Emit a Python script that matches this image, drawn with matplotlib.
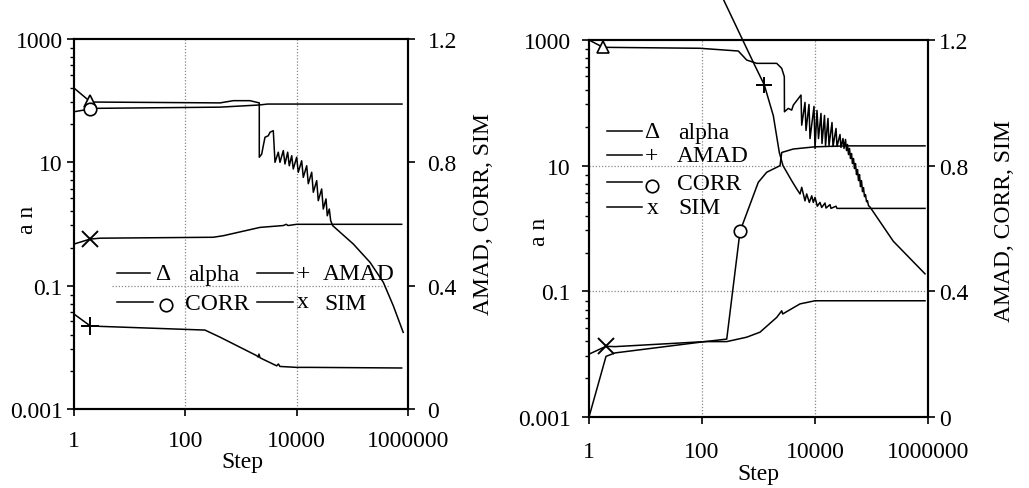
import matplotlib
matplotlib.use("Agg")
import matplotlib.pyplot as plt
from matplotlib.lines import Line2D
from matplotlib.ticker import FixedLocator, FixedFormatter, NullLocator

plt.rcParams['font.family'] = ['Liberation Serif', 'DejaVu Serif']
FS = 17

# ---------------- Left panel data ----------------
stepL_alpha = [1, 1.94, 2.2, 420, 727, 1450, 2130, 2131, 2354, 2515, 2697, 3093, 3319, 3803,
               4079, 4676, 5012, 5754, 6166, 6897, 7366, 8140, 8690, 10000, 10690, 12300,
               13150, 15140, 16180, 18620, 19900, 22900, 24440, 28120, 30060, 33650, 35480,
               38550, 40850, 44400, 104000, 208000, 360000, 544000, 820000]
alphaL = [160, 97, 95, 92, 100, 100, 92, 12.1, 13.6, 18.6, 25.5, 27.0, 30.7, 32.6,
          10.0, 14.6, 10.0, 15.5, 9.4, 14.6, 8.8, 12.8, 7.8, 12.1, 6.9, 10.6,
          5.7, 8.8, 4.5, 6.9, 3.27, 5.04, 2.39, 3.70, 1.75, 2.55, 1.36,
          1.75, 1.13, 0.94, 0.474, 0.239, 0.1135, 0.0473, 0.0175]

stepL_amad = [1, 1.94, 2.93, 225, 420, 1914, 2046, 2100, 2200, 4375, 4700, 5000, 10000, 17300, 770000]
amadL = [0.308, 0.270, 0.268, 0.256, 0.233, 0.173, 0.168, 0.178, 0.166, 0.140, 0.146, 0.138, 0.135, 0.135, 0.133]

stepL_corr = [1, 1.94, 2.2, 420, 2130, 3000, 780000]
corrL = [0.964, 0.973, 0.975, 0.979, 0.986, 0.989, 0.989]

stepL_sim = [1, 1.94, 2.93, 318, 481, 2193, 5750, 6500, 7000, 10000, 770000]
simL = [0.535, 0.551, 0.554, 0.557, 0.562, 0.589, 0.595, 0.599, 0.595, 0.599, 0.599]

# ---------------- Right panel data ----------------
stepR_alpha = [1, 1.77, 92, 439, 618, 929, 2100, 2575, 2864, 2880, 3367, 3870, 4130, 5650, 5820,
               6650, 6930, 7830, 8160, 9600, 10000, 10850, 11530, 12770, 13300, 14730, 15350,
               16980, 17700, 20000, 20840, 23550, 24500, 27700, 28840, 31300, 32600,
               34670, 36130, 37610, 39170, 40800, 42480, 44250, 46080, 47980, 50000, 52070,
               54300, 56500, 58880, 61350, 63830, 66530, 69340, 72110, 75160, 78340, 81650,
               84920, 88500, 94000, 243000, 885000]
alphaR = [1000, 765, 738, 668, 480, 425, 425, 354, 261, 72.1, 81.5, 76.6, 91.9, 133, 44.1,
          101.4, 36.3, 94.3, 27.0, 87.7, 18.8, 75.7, 27.0, 67.8, 22.5, 63.0, 20.9,
          56.4, 20.9, 48.6, 20.2, 39.1, 20.2, 31.3, 19.5, 27.0, 18.8,
          26.1, 17.4, 21.7, 15.0, 18.8, 13.0, 15.6, 10.8, 13.0, 9.0, 10.8,
          7.2, 8.67, 5.78, 7.2, 4.64, 5.78, 3.86, 4.48, 3.21, 3.46, 2.67,
          2.77, 2.31, 2.20, 0.627, 0.19]

stepR_amad = [162, 238, 809, 1267, 1829, 2335, 2715, 3870, 4745, 5430, 5820, 6650, 7130, 7930,
              8750, 9340, 10000, 10990, 12250, 13140, 15040, 15670, 18420, 19190, 23530,
              24500, 31700, 885000]
amadR = [1.394, 1.330, 1.129, 1.057, 0.959, 0.842, 0.800, 0.752, 0.726, 0.710, 0.731, 0.688,
         0.710, 0.683, 0.704, 0.683, 0.699, 0.671, 0.683, 0.667, 0.681, 0.665, 0.676, 0.664,
         0.671, 0.664, 0.664, 0.664]

stepR_corr = [1, 2.0, 2.9, 113, 274, 471, 991, 1396, 2404, 2575, 4130, 10000, 36400, 885000]
corrR = [0.0, 0.193, 0.204, 0.240, 0.248, 0.591, 0.747, 0.779, 0.800, 0.842, 0.853, 0.860, 0.863, 0.863]

stepR_sim = [1, 2.0, 2.9, 113, 274, 617, 1064, 2100, 2575, 2681, 5430, 10000, 885000]
simR = [0.200, 0.225, 0.224, 0.240, 0.240, 0.254, 0.270, 0.317, 0.338, 0.328, 0.360, 0.370, 0.370]

# marker positions (series value at a given step)
mkL = {'alpha': (1.94, 100), 'amad': (1.94, 0.270), 'corr': (1.94, 0.973), 'sim': (1.94, 0.551)}
mkR = {'alpha': (1.79, 780), 'amad': (1267, 1.057), 'corr': (471, 0.591), 'sim': (2.0, 0.225)}

x_ticks = [1, 100, 10000, 1000000]
x_labels = ['1', '100', '10000', '1000000']
yl_ticks = [0.001, 0.1, 10, 1000]
yl_labels = ['0.001', '0.1', '10', '1000']
yr_ticks = [0, 0.4, 0.8, 1.2]
yr_labels = ['0', '0.4', '0.8', '1.2']

W, H = 1029, 489
fig = plt.figure(figsize=(W / 100, H / 100), dpi=100)

LW = 1.1
GRID = dict(color='#888888', linestyle=(0, (1, 1.5)), linewidth=0.9)


def minor_positions():
    fr = [0.074, 0.145, 0.214, 0.288, 0.397, 0.512, 0.693]
    out = []
    for hi in (3, 1, -1):
        out += [10 ** (hi - 2 * f) for f in fr]
    return out


def setup(ax, ax2, lpad, rpad, xpad):
    ax.set_xscale('log')
    ax.set_yscale('log')
    ax.set_xlim(1, 1e6)
    ax.set_ylim(0.001, 1000)
    ax2.set_ylim(0, 1.2)
    ax.xaxis.set_major_locator(FixedLocator(x_ticks))
    ax.xaxis.set_major_formatter(FixedFormatter(x_labels))
    ax.xaxis.set_minor_locator(NullLocator())
    ax.yaxis.set_major_locator(FixedLocator(yl_ticks))
    ax.yaxis.set_major_formatter(FixedFormatter(yl_labels))
    ax.yaxis.set_minor_locator(FixedLocator(minor_positions()))
    ax2.yaxis.set_major_locator(FixedLocator(yr_ticks))
    ax2.yaxis.set_major_formatter(FixedFormatter(yr_labels))
    ax2.yaxis.set_minor_locator(NullLocator())
    ax.tick_params(axis='y', which='major', direction='out', length=5, width=1.2, labelsize=FS, pad=lpad)
    ax.tick_params(axis='y', which='minor', direction='out', length=3, width=1.0)
    ax.tick_params(axis='x', which='major', direction='out', length=5, width=1.2, labelsize=FS, pad=xpad)
    ax2.tick_params(axis='y', which='major', direction='out', length=5, width=1.2, labelsize=FS, pad=rpad)
    for a in (ax, ax2):
        for s in a.spines.values():
            s.set_linewidth(1.5)
            s.set_color('black')
    for xv in (100, 10000):
        ax.axvline(xv, zorder=0, **GRID)


def mk(ax, pt, marker, ms, mew=1.2):
    ax.plot([pt[0]], [pt[1]], linestyle='none', marker=marker, ms=ms, mfc='white',
            mec='black', mew=mew, zorder=6)


def fx(px):
    return px / W


def fy(py):
    return 1 - py / H


def leg_line(x0, x1, y):
    fig.add_artist(Line2D([fx(x0), fx(x1)], [fy(y), fy(y)], transform=fig.transFigure,
                          color='black', lw=LW))


def leg_text(x, y, s, ha='left'):
    fig.text(fx(x), fy(y), s, ha=ha, va='center', fontsize=FS)


def leg_circle(x, y):
    fig.add_artist(Line2D([fx(x)], [fy(y)], transform=fig.transFigure, marker='o', ms=9,
                          mfc='white', mec='black', mew=1.2, linestyle='none'))


# ---------------- Left panel ----------------
axL = fig.add_axes([fx(74), fy(410), 334 / W, 370 / H])
axL2 = axL.twinx()
setup(axL, axL2, lpad=3, rpad=9, xpad=10)
axL.axhline(0.1, xmin=0.114, xmax=0.946, zorder=0, **GRID)

axL.plot(stepL_alpha, alphaL, color='black', lw=LW)
axL2.plot(stepL_amad, amadL, color='black', lw=LW)
axL2.plot(stepL_corr, corrL, color='black', lw=LW)
axL2.plot(stepL_sim, simL, color='black', lw=LW)
mk(axL, mkL['alpha'], '^', 9)
mk(axL2, mkL['amad'], '+', 13, 1.4)
mk(axL2, mkL['corr'], 'o', 9)
mk(axL2, mkL['sim'], 'x', 11, 1.4)

axL.set_xlabel('Step', fontsize=FS)
axL.xaxis.set_label_coords(0.503, -0.141)
axL.xaxis.label.set_va('center')
axL.set_ylabel('a n', fontsize=FS)
axL.yaxis.set_label_coords(-0.14, 0.514)
axL.yaxis.label.set_va('center')
axL2.set_ylabel('AMAD, CORR, SIM', fontsize=FS)
axL2.yaxis.set_label_coords(1.225, 0.53)
axL2.yaxis.label.set_va('center')

# left legend (2 columns)
leg_line(117, 150, 274); leg_text(163, 275, 'Δ', ha='center'); leg_text(188, 275, 'alpha')
leg_line(257, 293, 274); leg_text(303, 275, '+', ha='center'); leg_text(323, 275, 'AMAD')
leg_line(117, 153, 303); leg_circle(166, 306); leg_text(185, 305, 'CORR')
leg_line(257, 293, 303); leg_text(303, 303, 'x', ha='center'); leg_text(324, 305, 'SIM')

# ---------------- Right panel ----------------
axR = fig.add_axes([fx(589), fy(418), 339 / W, 377 / H])
axR2 = axR.twinx()
setup(axR, axR2, lpad=8, rpad=3, xpad=12)
for yv in (0.1, 10):
    axR.axhline(yv, zorder=0, **GRID)

axR.plot(stepR_alpha, alphaR, color='black', lw=LW)
axR2.plot(stepR_amad, amadR, color='black', lw=LW, clip_on=False)
axR2.plot(stepR_corr, corrR, color='black', lw=LW)
axR2.plot(stepR_sim, simR, color='black', lw=LW)
mk(axR, mkR['alpha'], '^', 9)
mk(axR2, mkR['amad'], '+', 12, 1.4)
mk(axR2, mkR['corr'], 'o', 9)
mk(axR2, mkR['sim'], 'x', 11, 1.4)

axR.set_xlabel('Step', fontsize=FS)
axR.xaxis.set_label_coords(0.499, -0.151)
axR.xaxis.label.set_va('center')
axR.set_ylabel('a n', fontsize=FS)
axR.yaxis.set_label_coords(-0.145, 0.493)
axR.yaxis.label.set_va('center')
axR2.set_ylabel('AMAD, CORR, SIM', fontsize=FS)
axR2.yaxis.set_label_coords(1.227, 0.523)
axR2.yaxis.label.set_va('center')

leg_line(607, 642, 132); leg_text(652, 133, 'Δ', ha='center'); leg_text(678, 133, 'alpha')
leg_line(607, 642, 156); leg_text(652, 157, '+', ha='center'); leg_text(677, 157, 'AMAD')
leg_line(607, 642, 183); leg_circle(652, 187); leg_text(677, 185, 'CORR')
leg_line(607, 642, 208); leg_text(653, 208, 'x', ha='center'); leg_text(678, 209, 'SIM')

fig.savefig('out.png', dpi=100)
